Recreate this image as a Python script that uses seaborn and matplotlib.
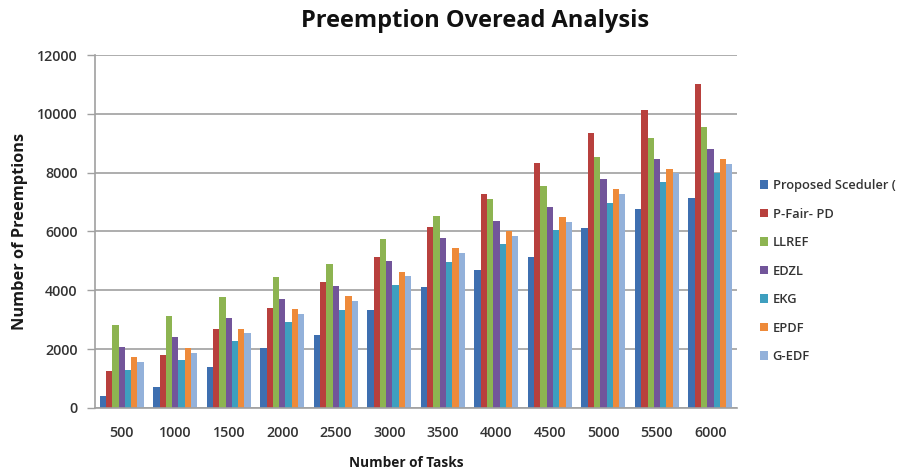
import matplotlib
matplotlib.use("Agg")
import matplotlib.pyplot as plt
import seaborn as sns
import pandas as pd

tasks = ["500", "1000", "1500", "2000", "2500", "3000",
         "3500", "4000", "4500", "5000", "5500", "6000"]

proposed = [420, 720, 1390, 2040, 2490, 3340, 4110, 4690, 5140, 6120, 6780, 7140]
pfair_pd = [1265, 1810, 2670, 3400, 4300, 5120, 6140, 7290, 8340, 9360, 10140, 11020]
llref = [2810, 3130, 3790, 4440, 4880, 5740, 6520, 7110, 7560, 8530, 9190, 9540]
edzl = [2080, 2400, 3050, 3720, 4150, 5010, 5790, 6360, 6830, 7800, 8450, 8810]
ekg = [1300, 1620, 2270, 2930, 3330, 4190, 4960, 5590, 6050, 6970, 7670, 7990]
epdf = [1740, 2045, 2700, 3360, 3810, 4610, 5440, 6000, 6490, 7450, 8110, 8450]
g_edf = [1570, 1880, 2540, 3190, 3650, 4500, 5280, 5850, 6320, 7290, 7990, 8310]

series_names = ["Proposed Sceduler (", "P-Fair- PD", "LLREF", "EDZL",
                "EKG", "EPDF", "G-EDF"]
series_values = [proposed, pfair_pd, llref, edzl, ekg, epdf, g_edf]
colors = ["#3E6FB0", "#B8403D", "#8DB451", "#72559A",
          "#3E9FBF", "#EE8A3A", "#93B1DA"]

df = pd.DataFrame({
    "tasks": [t for _ in series_names for t in tasks],
    "algorithm": [n for n in series_names for _ in tasks],
    "preemptions": [v for vals in series_values for v in vals],
})

sns.set_theme(style="white")
plt.rcParams["font.family"] = ["Open Sans", "DejaVu Sans"]

fig = plt.figure(figsize=(8.99, 4.71), dpi=100)
ax = fig.add_axes([0.1057, 0.1338, 0.7143, 0.7494])

sns.barplot(data=df, x="tasks", y="preemptions", hue="algorithm",
            order=tasks, hue_order=series_names, palette=colors,
            width=0.82, gap=0, saturation=1, errorbar=None,
            linewidth=0, ax=ax)

ax.set_ylim(0, 12000)
ax.set_yticks(range(0, 12001, 2000))
ax.set_xlim(-0.5, len(tasks) - 0.5)
ax.yaxis.grid(True, color="#A0A0A0", linewidth=1.2)
ax.set_axisbelow(True)
for side in ("top", "right"):
    ax.spines[side].set_visible(False)
for side in ("left", "bottom"):
    ax.spines[side].set_color("#A0A0A0")
    ax.spines[side].set_linewidth(1.2)

ax.tick_params(axis="y", which="major", length=6, width=1.0, color="#A0A0A0",
               left=True, labelsize=10.3, labelcolor="#333333", pad=6.5)
ax.tick_params(axis="x", length=0, labelsize=10.3, labelcolor="#333333", pad=13)
for lab in ax.get_xticklabels() + ax.get_yticklabels():
    lab.set_fontweight("semibold")

ax.set_xlabel("Number of Tasks", fontsize=9.8, fontweight="bold",
              color="#1a1a1a")
ax.xaxis.set_label_coords(0.485, -0.137)
ax.set_ylabel("Number of Preemptions", fontsize=11.8, fontweight="bold",
              color="#1a1a1a")
ax.yaxis.set_label_coords(-0.104, 0.5)

fig.text(0.528, 0.955, "Preemption Overead Analysis", ha="center", va="center",
         fontsize=17, fontweight="bold", color="#111111")

leg = ax.legend(loc="upper left", bbox_to_anchor=(1.027, 0.663), frameon=False,
                fontsize=9.3, handlelength=0.65, handleheight=0.65,
                handletextpad=0.35, labelspacing=1.2, borderaxespad=0)
for t in leg.get_texts():
    t.set_fontweight("semibold")
    t.set_color("#333333")

fig.savefig("out.png", dpi=100, facecolor="white")
